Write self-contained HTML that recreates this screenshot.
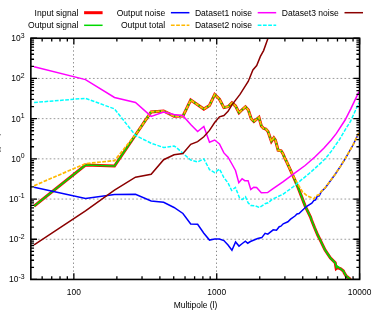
<!DOCTYPE html><html><head><meta charset="utf-8"><style>
html,body{margin:0;padding:0;background:#fff;}svg{display:block;will-change:transform}text{font-family:"Liberation Sans",sans-serif;fill:#000}
</style></head><body>
<svg width="373" height="314" viewBox="0 0 373 314">
<rect width="373" height="314" fill="#fff"/>
<path d="M30.85 239.25 H359.60 M30.85 199.05 H359.60 M30.85 158.85 H359.60 M30.85 118.65 H359.60 M30.85 78.45 H359.60" stroke="#9c9c9c" stroke-width="1" stroke-dasharray="1.7 2.23" stroke-dashoffset="0.8" fill="none"/>
<path d="M73.50 38.25 V279.45 M216.50 38.25 V279.45" stroke="#858585" stroke-width="1" stroke-dasharray="1.3 2.63" stroke-dashoffset="3.63" fill="none"/>
<clipPath id="c"><rect x="30.85" y="38.25" width="328.75" height="241.20"/></clipPath>
<g clip-path="url(#c)" fill="none" stroke-linejoin="miter" stroke-miterlimit="6" stroke-linecap="butt">
<path d="M34.10 206.10 L85.50 165.00 L114.50 166.00 L135.49 135.00 L151.15 111.90 L163.64 111.00 L174.03 116.20 L182.93 116.10 L190.71 100.00 L197.63 104.80 L203.85 109.10 L209.50 105.50 L214.68 94.50 L219.46 99.20 L223.90 107.60 L228.04 106.70 L231.93 102.90 L235.58 106.00 L239.03 112.80 L242.30 109.50 L245.41 106.80 L248.36 110.10 L251.19 118.80 L253.89 121.50 L256.47 119.30 L258.96 117.30 L261.35 125.90 L263.65 128.50 L265.86 129.00 L268.00 131.40 L270.07 137.50 L271.40 141.40 L273.80 137.80 L275.40 140.10 L278.10 150.20 L281.10 150.80 L282.80 153.50 L284.80 158.20 L286.10 160.70 L292.50 174.50 L298.40 188.40 L305.10 205.80 L310.50 217.00 L311.50 220.00 L314.50 227.50 L317.70 235.00 L320.40 240.30 L325.10 250.10 L330.50 258.10 L335.20 262.80 L336.20 268.60 L337.60 267.60 L340.70 268.90 L343.40 271.00 L344.30 273.00 L346.10 275.90 L349.80 278.80 L352.60 282.50" stroke="#ff0000" stroke-width="3"/>
<path d="M34.10 206.10 L85.50 165.00 L114.50 166.00 L135.49 135.00 L151.15 111.90 L163.64 111.00 L174.03 116.20 L182.93 116.10 L190.71 100.00 L197.63 104.80 L203.85 109.10 L209.50 105.50 L214.68 94.50 L219.46 99.20 L223.90 107.60 L228.04 106.70 L231.93 102.90 L235.58 106.00 L239.03 112.80 L242.30 109.50 L245.41 106.80 L248.36 110.10 L251.19 118.80 L253.89 121.50 L256.47 119.30 L258.96 117.30 L261.35 125.90 L263.65 128.50 L265.86 129.00 L268.00 131.40 L270.07 137.50 L271.40 141.40 L273.80 137.80 L275.40 140.10 L278.10 150.20 L281.10 150.80 L282.80 153.50 L284.80 158.20 L286.10 160.70 L292.50 174.50 L298.40 188.40 L305.10 205.80 L310.50 217.00 L311.50 220.00 L314.50 227.50 L317.70 235.00 L320.40 240.30 L325.10 250.10 L330.50 258.10 L335.20 262.80 L336.50 267.50 L337.30 266.30 L340.70 268.90 L343.40 271.10 L346.10 275.90 L349.80 278.80 L352.60 282.50" stroke="#00d800" stroke-width="1.7"/>
<path d="M34.10 187.20 L85.50 198.60 L114.50 194.40 L135.49 194.20 L151.15 201.00 L163.64 202.30 L174.03 207.50 L182.93 213.50 L190.71 224.00 L197.63 224.30 L203.85 233.30 L209.50 240.10 L214.68 239.00 L219.46 239.10 L223.90 240.60 L228.04 245.10 L231.93 250.30 L235.58 241.90 L239.03 246.10 L242.30 243.50 L245.41 241.20 L247.70 243.20 L250.40 241.50 L257.70 238.50 L261.80 237.60 L265.10 233.40 L267.80 234.20 L273.20 229.80 L276.50 230.20 L279.20 226.70 L280.90 226.20 L283.20 223.80 L287.90 221.80 L290.60 219.10 L295.00 216.00 L297.00 213.90 L299.00 213.50 L305.10 207.80 L307.10 206.10 L311.80 203.20 L313.80 200.50 L315.60 199.80 L317.20 196.40 L319.20 195.80 L321.20 191.80 L325.20 188.00 L329.20 182.50 L335.20 174.20 L340.60 166.10 L345.00 159.00 L353.00 145.00 L358.90 132.80" stroke="#0000ff" stroke-width="1.5"/>
<path d="M34.10 185.70 L85.50 163.60 L114.50 160.60 L134.30 136.00 L135.49 135.00 L151.15 111.90 L163.64 111.00 L174.03 116.20 L182.93 116.10 L190.71 100.00 L197.63 104.80 L203.85 109.10 L209.50 105.50 L214.68 94.50 L219.46 99.20 L223.90 107.60 L228.04 106.70 L231.93 102.90 L235.58 106.00 L239.03 112.80 L242.30 109.50 L245.41 106.80 L248.36 110.10 L251.19 118.80 L253.89 121.50 L256.47 119.30 L258.96 117.30 L261.35 125.90 L263.65 128.50 L265.86 129.00 L268.00 131.40 L270.07 137.50 L271.40 141.40 L273.80 137.80 L275.40 140.10 L278.10 150.20 L281.10 150.80 L282.80 153.50 L284.80 158.20 L286.10 160.70 L292.50 174.50 L298.40 185.00 L302.40 191.80 L307.10 195.80 L311.10 197.50 L313.80 198.90 L315.60 196.40 L317.80 195.10 L319.20 194.60 L321.20 191.40 L325.20 187.70 L329.20 182.30 L335.20 174.20 L340.60 166.10 L345.00 159.00 L353.00 145.00 L358.90 132.80" stroke="#ffb800" stroke-width="1.7" stroke-dasharray="3.75 1.45"/>
<path d="M34.10 66.70 L85.50 79.60 L114.50 97.50 L135.49 102.50 L151.15 116.40 L163.64 112.10 L174.03 114.50 L182.93 115.70 L190.71 124.50 L197.63 131.60 L203.85 126.40 L209.50 142.20 L214.68 140.00 L219.46 143.90 L223.90 152.90 L228.04 157.20 L231.93 164.00 L235.50 170.50 L238.80 182.70 L242.10 178.70 L244.80 180.70 L248.10 180.70 L250.80 189.40 L253.80 187.20 L256.60 187.40 L261.30 192.80 L267.60 192.50 L272.00 189.40 L282.90 181.80 L295.00 172.80 L305.10 165.50 L315.10 156.80 L323.80 148.30 L331.20 140.00 L336.40 133.40 L345.10 120.00 L350.90 108.60 L359.00 91.60" stroke="#ff00ff" stroke-width="1.5"/>
<path d="M34.10 102.50 L85.50 98.30 L114.50 108.90 L135.49 135.40 L151.15 143.20 L163.64 147.50 L174.03 146.00 L176.40 147.50 L182.93 153.30 L190.71 160.00 L197.63 161.90 L203.85 158.90 L209.50 169.60 L214.68 172.60 L219.46 169.00 L223.90 177.60 L228.04 182.90 L231.60 190.40 L235.40 187.40 L239.40 197.50 L242.10 199.50 L245.50 196.80 L248.10 202.80 L250.80 205.50 L255.50 205.90 L259.50 207.50 L264.90 203.80 L268.20 202.80 L272.00 199.50 L282.90 194.30 L293.60 186.50 L301.00 180.20 L308.40 174.20 L315.10 168.20 L321.80 162.10 L325.80 158.10 L331.20 151.40 L335.90 144.60 L339.20 140.00 L346.60 127.50 L350.50 121.30 L358.90 102.80" stroke="#00ffff" stroke-width="1.5" stroke-dasharray="3.75 1.45"/>
<path d="M34.10 244.80 L85.50 210.90 L114.50 190.10 L135.49 177.20 L151.15 174.20 L163.64 159.70 L174.03 154.70 L182.93 153.50 L190.71 144.30 L197.63 141.70 L203.85 136.80 L209.50 130.40 L214.68 122.50 L219.46 116.80 L223.90 115.50 L228.04 111.40 L231.93 104.90 L240.00 94.40 L248.20 81.50 L252.90 69.90 L256.70 65.60 L260.40 56.40 L263.60 50.60 L267.90 38.60 L270.00 32.00" stroke="#8b0000" stroke-width="1.5"/>
</g>
<path d="M30.85 279.45 h6.20 M359.60 279.45 h-6.20 M30.85 267.35 h3.20 M359.60 267.35 h-3.20 M30.85 260.27 h3.20 M359.60 260.27 h-3.20 M30.85 255.25 h3.20 M359.60 255.25 h-3.20 M30.85 251.35 h3.20 M359.60 251.35 h-3.20 M30.85 248.17 h3.20 M359.60 248.17 h-3.20 M30.85 245.48 h3.20 M359.60 245.48 h-3.20 M30.85 243.15 h3.20 M359.60 243.15 h-3.20 M30.85 241.09 h3.20 M359.60 241.09 h-3.20 M30.85 239.25 h6.20 M359.60 239.25 h-6.20 M30.85 227.15 h3.20 M359.60 227.15 h-3.20 M30.85 220.07 h3.20 M359.60 220.07 h-3.20 M30.85 215.05 h3.20 M359.60 215.05 h-3.20 M30.85 211.15 h3.20 M359.60 211.15 h-3.20 M30.85 207.97 h3.20 M359.60 207.97 h-3.20 M30.85 205.28 h3.20 M359.60 205.28 h-3.20 M30.85 202.95 h3.20 M359.60 202.95 h-3.20 M30.85 200.89 h3.20 M359.60 200.89 h-3.20 M30.85 199.05 h6.20 M359.60 199.05 h-6.20 M30.85 186.95 h3.20 M359.60 186.95 h-3.20 M30.85 179.87 h3.20 M359.60 179.87 h-3.20 M30.85 174.85 h3.20 M359.60 174.85 h-3.20 M30.85 170.95 h3.20 M359.60 170.95 h-3.20 M30.85 167.77 h3.20 M359.60 167.77 h-3.20 M30.85 165.08 h3.20 M359.60 165.08 h-3.20 M30.85 162.75 h3.20 M359.60 162.75 h-3.20 M30.85 160.69 h3.20 M359.60 160.69 h-3.20 M30.85 158.85 h6.20 M359.60 158.85 h-6.20 M30.85 146.75 h3.20 M359.60 146.75 h-3.20 M30.85 139.67 h3.20 M359.60 139.67 h-3.20 M30.85 134.65 h3.20 M359.60 134.65 h-3.20 M30.85 130.75 h3.20 M359.60 130.75 h-3.20 M30.85 127.57 h3.20 M359.60 127.57 h-3.20 M30.85 124.88 h3.20 M359.60 124.88 h-3.20 M30.85 122.55 h3.20 M359.60 122.55 h-3.20 M30.85 120.49 h3.20 M359.60 120.49 h-3.20 M30.85 118.65 h6.20 M359.60 118.65 h-6.20 M30.85 106.55 h3.20 M359.60 106.55 h-3.20 M30.85 99.47 h3.20 M359.60 99.47 h-3.20 M30.85 94.45 h3.20 M359.60 94.45 h-3.20 M30.85 90.55 h3.20 M359.60 90.55 h-3.20 M30.85 87.37 h3.20 M359.60 87.37 h-3.20 M30.85 84.68 h3.20 M359.60 84.68 h-3.20 M30.85 82.35 h3.20 M359.60 82.35 h-3.20 M30.85 80.29 h3.20 M359.60 80.29 h-3.20 M30.85 78.45 h6.20 M359.60 78.45 h-6.20 M30.85 66.35 h3.20 M359.60 66.35 h-3.20 M30.85 59.27 h3.20 M359.60 59.27 h-3.20 M30.85 54.25 h3.20 M359.60 54.25 h-3.20 M30.85 50.35 h3.20 M359.60 50.35 h-3.20 M30.85 47.17 h3.20 M359.60 47.17 h-3.20 M30.85 44.48 h3.20 M359.60 44.48 h-3.20 M30.85 42.15 h3.20 M359.60 42.15 h-3.20 M30.85 40.09 h3.20 M359.60 40.09 h-3.20 M30.85 38.25 h6.20 M359.60 38.25 h-6.20 M73.86 279.45 v-6.20 M73.86 38.25 v6.20 M216.73 279.45 v-6.20 M216.73 38.25 v6.20 M359.60 279.45 v-6.20 M359.60 38.25 v6.20 M42.16 279.45 v-3.20 M42.16 38.25 v3.20 M51.73 279.45 v-3.20 M51.73 38.25 v3.20 M60.01 279.45 v-3.20 M60.01 38.25 v3.20 M67.32 279.45 v-3.20 M67.32 38.25 v3.20 M116.87 279.45 v-3.20 M116.87 38.25 v3.20 M142.03 279.45 v-3.20 M142.03 38.25 v3.20 M159.88 279.45 v-3.20 M159.88 38.25 v3.20 M173.72 279.45 v-3.20 M173.72 38.25 v3.20 M185.03 279.45 v-3.20 M185.03 38.25 v3.20 M194.60 279.45 v-3.20 M194.60 38.25 v3.20 M202.88 279.45 v-3.20 M202.88 38.25 v3.20 M210.19 279.45 v-3.20 M210.19 38.25 v3.20 M259.74 279.45 v-3.20 M259.74 38.25 v3.20 M284.90 279.45 v-3.20 M284.90 38.25 v3.20 M302.75 279.45 v-3.20 M302.75 38.25 v3.20 M316.59 279.45 v-3.20 M316.59 38.25 v3.20 M327.90 279.45 v-3.20 M327.90 38.25 v3.20 M337.47 279.45 v-3.20 M337.47 38.25 v3.20 M345.75 279.45 v-3.20 M345.75 38.25 v3.20 M353.06 279.45 v-3.20 M353.06 38.25 v3.20" stroke="#000" stroke-width="1.3" fill="none"/>
<rect x="30.85" y="38.25" width="328.75" height="241.20" fill="none" stroke="#000" stroke-width="1.6"/>
<text transform="translate(24.60 282.44) scale(1 1.080)" font-size="8.45" text-anchor="end">10<tspan dy="-3.4" font-size="6.9">-3</tspan></text>
<text transform="translate(24.60 242.24) scale(1 1.080)" font-size="8.45" text-anchor="end">10<tspan dy="-3.4" font-size="6.9">-2</tspan></text>
<text transform="translate(24.60 202.04) scale(1 1.080)" font-size="8.45" text-anchor="end">10<tspan dy="-3.4" font-size="6.9">-1</tspan></text>
<text transform="translate(24.60 161.84) scale(1 1.080)" font-size="8.45" text-anchor="end">10<tspan dy="-3.4" font-size="6.9">0</tspan></text>
<text transform="translate(24.60 121.64) scale(1 1.080)" font-size="8.45" text-anchor="end">10<tspan dy="-3.4" font-size="6.9">1</tspan></text>
<text transform="translate(24.60 81.44) scale(1 1.080)" font-size="8.45" text-anchor="end">10<tspan dy="-3.4" font-size="6.9">2</tspan></text>
<text transform="translate(24.60 41.24) scale(1 1.080)" font-size="8.45" text-anchor="end">10<tspan dy="-3.4" font-size="6.9">3</tspan></text>
<text transform="translate(73.86 294.84) scale(1 1.080)" font-size="8.45" text-anchor="middle">100</text>
<text transform="translate(216.73 294.84) scale(1 1.080)" font-size="8.45" text-anchor="middle">1000</text>
<text transform="translate(359.60 294.84) scale(1 1.080)" font-size="8.45" text-anchor="middle">10000</text>
<text transform="translate(195.50 307.94) scale(1 1.080)" font-size="8.45" text-anchor="middle">Multipole (l)</text>
<text transform="translate(78.40 15.64) scale(1 1.080)" font-size="8.58" text-anchor="end">Input signal</text>
<path d="M84.10 12.70 h18.5" stroke="#ff0000" stroke-width="3" fill="none"/>
<text transform="translate(78.40 28.39) scale(1 1.080)" font-size="8.58" text-anchor="end">Output signal</text>
<path d="M84.10 25.30 h18.5" stroke="#00d800" stroke-width="1.5" fill="none"/>
<text transform="translate(165.20 15.64) scale(1 1.080)" font-size="8.58" text-anchor="end">Output noise</text>
<path d="M170.90 12.70 h18.5" stroke="#0000ff" stroke-width="1.5" fill="none"/>
<text transform="translate(165.20 28.39) scale(1 1.080)" font-size="8.58" text-anchor="end">Output total</text>
<path d="M170.90 25.30 h18.5" stroke="#ffb800" stroke-width="1.45" fill="none" stroke-dasharray="3.75 1.5"/>
<text transform="translate(252.00 15.64) scale(1 1.080)" font-size="8.58" text-anchor="end">Dataset1 noise</text>
<path d="M257.70 12.70 h18.5" stroke="#ff00ff" stroke-width="1.5" fill="none"/>
<text transform="translate(252.00 28.39) scale(1 1.080)" font-size="8.58" text-anchor="end">Dataset2 noise</text>
<path d="M257.70 25.30 h18.5" stroke="#00ffff" stroke-width="1.45" fill="none" stroke-dasharray="3.75 1.5"/>
<text transform="translate(338.80 15.64) scale(1 1.080)" font-size="8.58" text-anchor="end">Dataset3 noise</text>
<path d="M344.50 12.70 h18.5" stroke="#8b0000" stroke-width="1.5" fill="none"/>
<path d="M0 134.2h0.8v1.1h-0.8z M0 147.2h0.9v1.3h-0.9z M0 150.4h0.9v1.3h-0.9z" fill="#555"/><path d="M0 148.5h0.5v1.9h-0.5z" fill="#bbb"/>
</svg></body></html>
